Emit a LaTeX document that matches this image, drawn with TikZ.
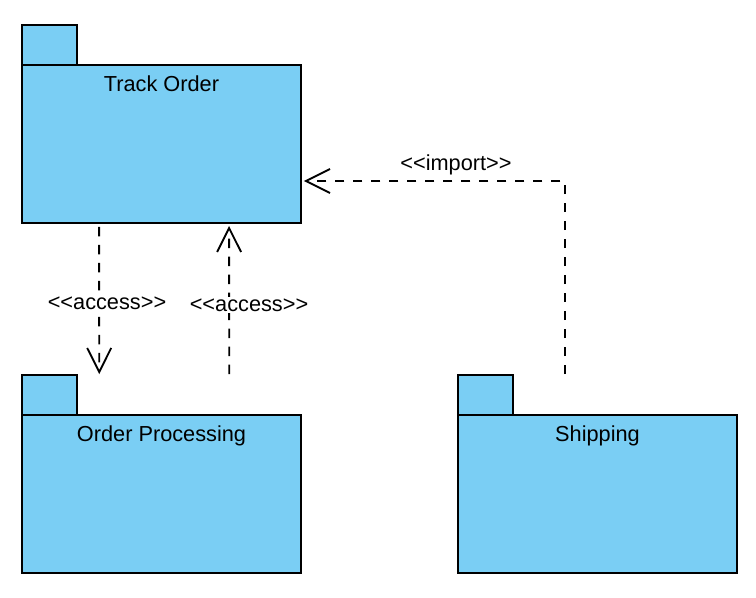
\documentclass[tikz,border=0pt]{standalone}
\usepackage{fontspec}
\setmainfont{Liberation Sans}
\usetikzlibrary{arrows.meta, calc}
\definecolor{pkgblue}{HTML}{7ACEF4}
\newcommand{\stereo}[1]{<\kern0pt<#1>\kern0pt>}

\begin{document}
\begin{tikzpicture}[x = 0.75pt, y = -0.75pt, line width = 1.4pt,
                        body/.style = {draw, fill = pkgblue, minimum width = 209.25pt, minimum height = 118.5pt, inner sep = 0pt},
                        tab/.style = {draw, fill = pkgblue, minimum width = 41pt, minimum height = 30pt, inner sep = 0pt},
                        title/.style = {anchor = base, inner sep = 0pt, font = \fontsize{16.3}{19}\selectfont},
                        dep/.style = {dash pattern = on 7pt off 6.5pt, -{Straight Barb[length = 18pt, width = 18pt]}},
                        stlabel/.style = {fill = white, inner sep = 1pt, font = \fontsize{16.3}{19}\selectfont}]
      \useasboundingbox (0, 0) rectangle (756, 597);
      % packages
      \node [tab] (ttab) at (49.5, 45){};
      \node [body] (track) at (161.5, 144){};
      \node [title] at ($(track.north)+(0, 27.5)$){Track Order};
      \node [tab] (otab) at (49.5, 395){};
      \node [body] (order) at (161.5, 494){};
      \node [title] at ($(order.north)+(0, 27.5)$){Order Processing};
      \node [tab] (stab) at (485.5, 395){};
      \node [body] (ship) at (597.5, 494){};
      \node [title] at ($(ship.north)+(0, 27.5)$){Shipping};
      % dependency ends
      \coordinate (acc1s) at ($(track.south west)+(78, 3)$);
      \coordinate (acc1e) at ($(otab.north west)+(78, 0)$);
      \coordinate (acc2s) at ($(otab.north west)+(208, 0)$);
      \coordinate (acc2e) at ($(track.south west)+(208, 2)$);
      \coordinate (imps) at ($(stab.north west)+(108, 0)$);
      \coordinate (impe) at ($(track.east)+(2, 37)$);
      \draw [dep] (acc1s) -- (acc1e);
      \draw [dep] (acc2s) -- (acc2e);
      \draw [dep] (imps) |- (impe);
      \node [stlabel] at (107, 303){\stereo{access}};
      \node [stlabel] at (249, 305){\stereo{access}};
      \node [stlabel, fill = none] at (456, 165){\stereo{import}};
    \end{tikzpicture}
\end{document}
